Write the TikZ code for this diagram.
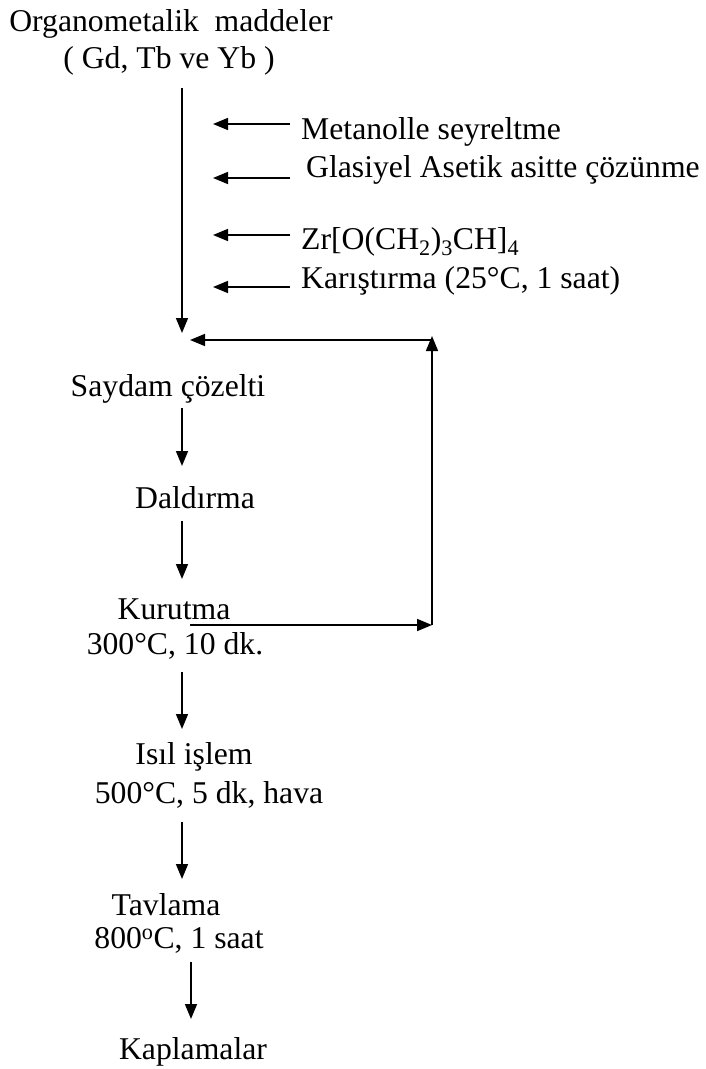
\documentclass[tikz,border=0pt]{standalone}
\usepackage{fontspec}
\setmainfont{Liberation Serif}
\usetikzlibrary{arrows.meta}
\begin{document}
\begin{tikzpicture}[x=1pt,y=-1pt,
  txt/.style={inner sep=0pt,font=\fontsize{31.7}{37}\selectfont},
  arr/.style={line width=1.6pt,-{Triangle[length=15pt,width=12pt]}},
  ln/.style={line width=1.6pt}]
\useasboundingbox (0,0) rectangle (706,1069);
% top
\node[txt] (org1) at (171,24) {Organometalik~~maddeler};
\node[txt] (org2) at (169,61) {( Gd, Tb ve Yb )};
% side labels
\node[txt,anchor=west] (t1) at (301,132) {Metanolle seyreltme};
\node[txt,anchor=west] (t2) at (306,170) {Glasiyel Asetik asitte çözünme};
\node[txt,anchor=west] (t3) at (301,242) {Zr[O(CH\textsubscript{2})\textsubscript{3}CH]\textsubscript{4}};
\node[txt,anchor=west] (t4) at (301,281) {Karıştırma (25°C, 1 saat)};
% main steps
\node[txt] (sc) at (168,389) {Saydam çözelti};
\node[txt] (dal) at (195,498) {Daldırma};
\node[txt] (kur) at (174,609) {Kurutma};
\node[txt] (kur2) at (175,646) {300°C, 10 dk.};
\node[txt] (isil) at (194,757) {Isıl işlem};
\node[txt] (isil2) at (209,795) {500°C, 5 dk, hava};
\node[txt] (tav) at (166,905) {Tavlama};
\node[txt] (tav2) at (179,940) {800\textsuperscript{o}C, 1 saat};
\node[txt] (kap) at (193,1052) {Kaplamalar};
% coordinates
\coordinate (m0) at (182,88);
\coordinate (mix) at (182,333);
\coordinate (s1a) at (290,124); \coordinate (s1b) at (213,124);
\coordinate (s2a) at (290,178); \coordinate (s2b) at (213,178);
\coordinate (s3a) at (290,235); \coordinate (s3b) at (213,235);
\coordinate (s4a) at (290,287); \coordinate (s4b) at (213,287);
\coordinate (fb0) at (190,625);
\coordinate (fb1) at (432,625);
\coordinate (fb2) at (432,336);
\coordinate (fb3) at (432,340);
\coordinate (fb4) at (190,340);
\coordinate (a1) at (182,408); \coordinate (a1e) at (182,466);
\coordinate (a2) at (182,521); \coordinate (a2e) at (182,579);
\coordinate (a3) at (182,672); \coordinate (a3e) at (182,729);
\coordinate (a4) at (182,822); \coordinate (a4e) at (182,879);
\coordinate (a5) at (191,962); \coordinate (a5e) at (191,1019);
% connectors
\draw[arr] (m0) -- (mix);
\draw[arr] (s1a) -- (s1b);
\draw[arr] (s2a) -- (s2b);
\draw[arr] (s3a) -- (s3b);
\draw[arr] (s4a) -- (s4b);
\draw[arr] (fb0) -- (fb1);
\draw[arr] (fb1) -- (fb2);
\draw[arr] (fb3) -- (fb4);
\draw[arr] (a1) -- (a1e);
\draw[arr] (a2) -- (a2e);
\draw[arr] (a3) -- (a3e);
\draw[arr] (a4) -- (a4e);
\draw[arr] (a5) -- (a5e);
\end{tikzpicture}
\end{document}
